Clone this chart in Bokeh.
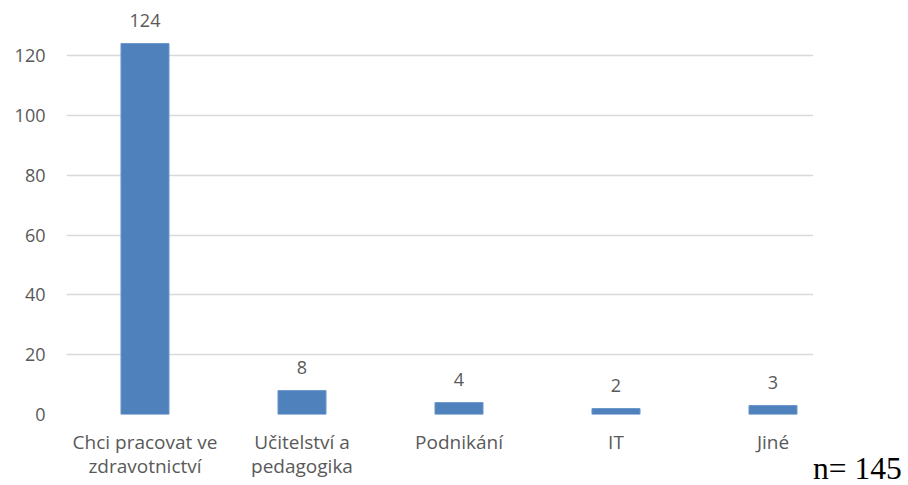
from bokeh.plotting import figure
from bokeh.models import ColumnDataSource, FixedTicker, Range1d, LabelSet, Div, Spacer
from bokeh.layouts import row, column
from bokeh.core.properties import value
from bokeh.embed import file_html
from bokeh.resources import INLINE

categories = ["Chci pracovat ve\nzdravotnictví", "Učitelství a\npedagogika", "Podnikání", "IT", "Jiné"]
values = [124, 8, 4, 2, 3]
y_ticks = [0, 20, 40, 60, 80, 100, 120]
note = "n= 145"

idx = list(range(len(categories)))
src = ColumnDataSource(dict(x=idx, v=values, t=[str(v) for v in values]))

p = figure(frame_width=747, frame_height=410, output_backend="svg", toolbar_location=None,
           x_range=Range1d(-0.5, 4.258), y_range=Range1d(0, 137.05),
           min_border_left=66, min_border_right=0, min_border_top=4, min_border_bottom=0)
p.outline_line_color = None
p.background_fill_color = "white"
p.border_fill_color = "white"

p.vbar(x="x", top="v", width=0.306, source=src, fill_color="#4F81BD", line_color="#6E98CC", line_width=1)

labels = LabelSet(x="x", y="v", text="t", source=src, text_align="center", text_baseline="alphabetic",
                  y_offset=17, text_font=value("Open Sans"), text_font_size="18px", text_color="#595959")
p.add_layout(labels)

p.xgrid.grid_line_color = None
p.ygrid.grid_line_color = "#D9D9D9"
p.ygrid.grid_line_width = 1.5
p.ygrid.ticker = FixedTicker(ticks=y_ticks)

p.yaxis.ticker = FixedTicker(ticks=y_ticks)
p.yaxis.axis_line_color = None
p.yaxis.major_tick_line_color = None
p.yaxis.minor_tick_line_color = None
p.yaxis.major_label_standoff = 15
p.yaxis.major_label_text_font = "Open Sans"
p.yaxis.major_label_text_font_size = "18px"
p.yaxis.major_label_text_color = "#595959"

p.xaxis.ticker = FixedTicker(ticks=idx)
p.xaxis.major_label_overrides = {i: c for i, c in zip(idx, categories)}
p.xaxis.axis_line_color = None
p.xaxis.major_tick_line_color = None
p.xaxis.minor_tick_line_color = None
p.xaxis.major_label_standoff = 8
p.xaxis.major_label_text_font = "Open Sans"
p.xaxis.major_label_text_font_size = "19px"
p.xaxis.major_label_text_line_height = 0.95
p.xaxis.major_label_text_color = "#595959"

div = Div(text=note, width=95, height=30, margin=0,
          styles={"font-family": "Liberation Serif", "font-size": "31.5px", "line-height": "30px",
                  "color": "black", "white-space": "nowrap", "overflow": "visible"})
side = column(Spacer(width=95, height=454, margin=0), div, margin=0, spacing=0)
layout = row(p, side, margin=0, spacing=0)

open("out.html", "w").write(file_html(layout, INLINE))
